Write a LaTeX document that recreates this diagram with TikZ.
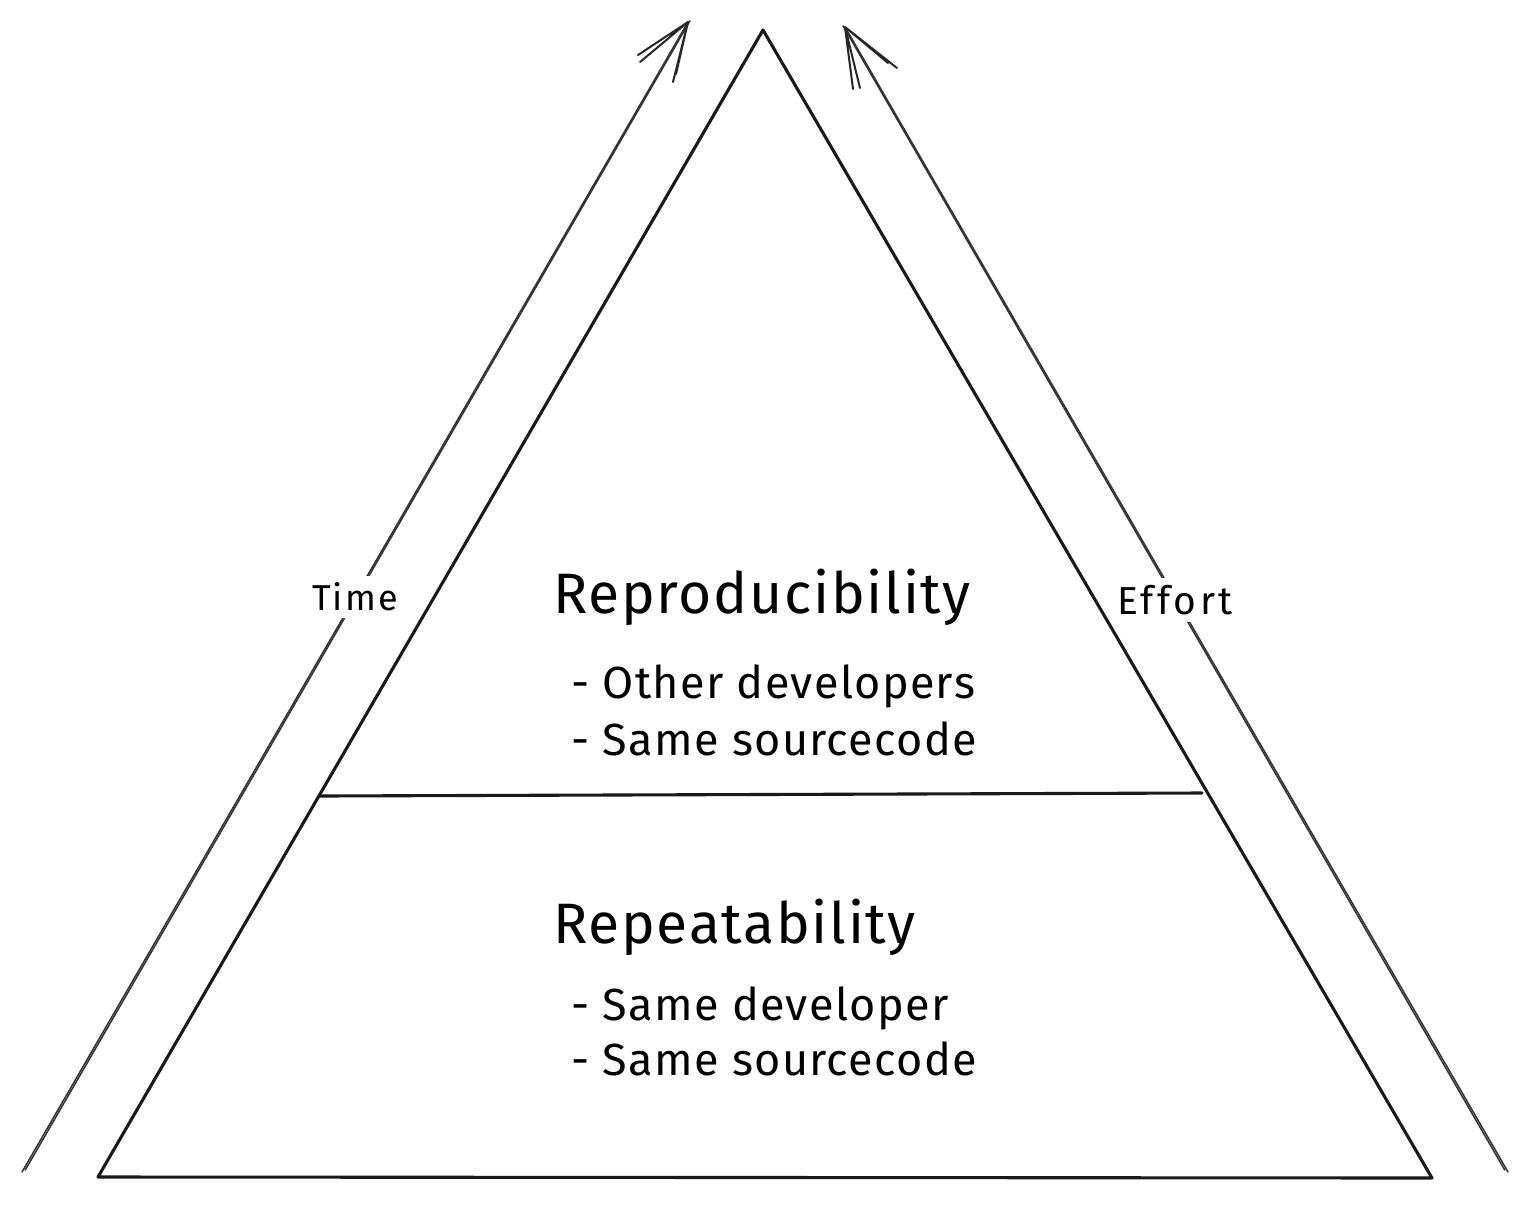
\documentclass[tikz,border=0pt]{standalone}
\usepackage{fontspec}
\setmainfont{Fira Sans}
\tikzset{
  edge/.style={line width=3.1pt, line join=round, line cap=round, draw=black!90},
  shaft/.style={line width=1.5pt, line cap=round, draw=black!80},
  barb/.style={line width=2pt, line cap=round, draw=black!85},
  axislabel/.style={fill=white, inner sep=7pt, font=\fontsize{36}{38}\selectfont\addfontfeature{LetterSpace=6}},
  heading/.style={anchor=base west, inner sep=0pt, font=\fontsize{57}{60}\selectfont\addfontfeature{LetterSpace=3}},
  item/.style={anchor=base west, inner sep=0pt, font=\fontsize{45}{48}\selectfont\addfontfeature{LetterSpace=3}},
}
\begin{document}
\begin{tikzpicture}[x=1pt,y=-1pt]
\useasboundingbox (0,0) rectangle (1528,1205);
% triangle
\coordinate (apex) at (763,30);
\coordinate (bl) at (98,1177);
\coordinate (br) at (1432,1178);
\coordinate (ml) at (320,796);
\coordinate (mr) at (1202,793);
\draw[edge] (apex) -- (bl) -- (br) -- cycle;
\draw[edge] (ml) -- (mr);
% left arrow (Time)
\coordinate (ts) at (22,1172);
\coordinate (te) at (688,22);
\coordinate (tb1) at (638,55);
\coordinate (tb1b) at (640,62);
\coordinate (tb2) at (673,82);
\coordinate (tb2b) at (676,74);
\draw[shaft] (ts) -- (te);
\draw[shaft] ([xshift=3.2pt,yshift=1.9pt]ts) -- ([xshift=2pt,yshift=1.2pt]te);
\draw[barb] (te) -- (tb1) (te) -- (tb1b) (te) -- (tb2) (te) -- (tb2b);
\node[axislabel] (time) at (355,597) {Time};
% right arrow (Effort)
\coordinate (es) at (1508,1172);
\coordinate (ee) at (845,27);
\coordinate (eb1) at (897,68);
\coordinate (eb1b) at (888,63);
\coordinate (eb2) at (853,89);
\coordinate (eb2b) at (860,88);
\draw[shaft] (es) -- (ee);
\draw[shaft] ([xshift=-3.2pt,yshift=1.9pt]es) -- ([xshift=-2pt,yshift=1.2pt]ee);
\draw[barb] (ee) -- (eb1) (ee) -- (eb1b) (ee) -- (eb2) (ee) -- (eb2b);
\node[axislabel, font=\fontsize{39}{41}\selectfont\addfontfeature{LetterSpace=9}] (effort) at (1175,600) {Effort};
% texts
\node[heading] (repro) at (553,613) {Reproducibility};
\node[item] (r1) at (571,698) {- Other developers};
\node[item] (r2) at (571,755) {- Same sourcecode};
\node[heading] (repeat) at (553,943) {Repeatability};
\node[item] (p1) at (571,1020) {- Same developer};
\node[item] (p2) at (571,1075) {- Same sourcecode};
\end{tikzpicture}
\end{document}
